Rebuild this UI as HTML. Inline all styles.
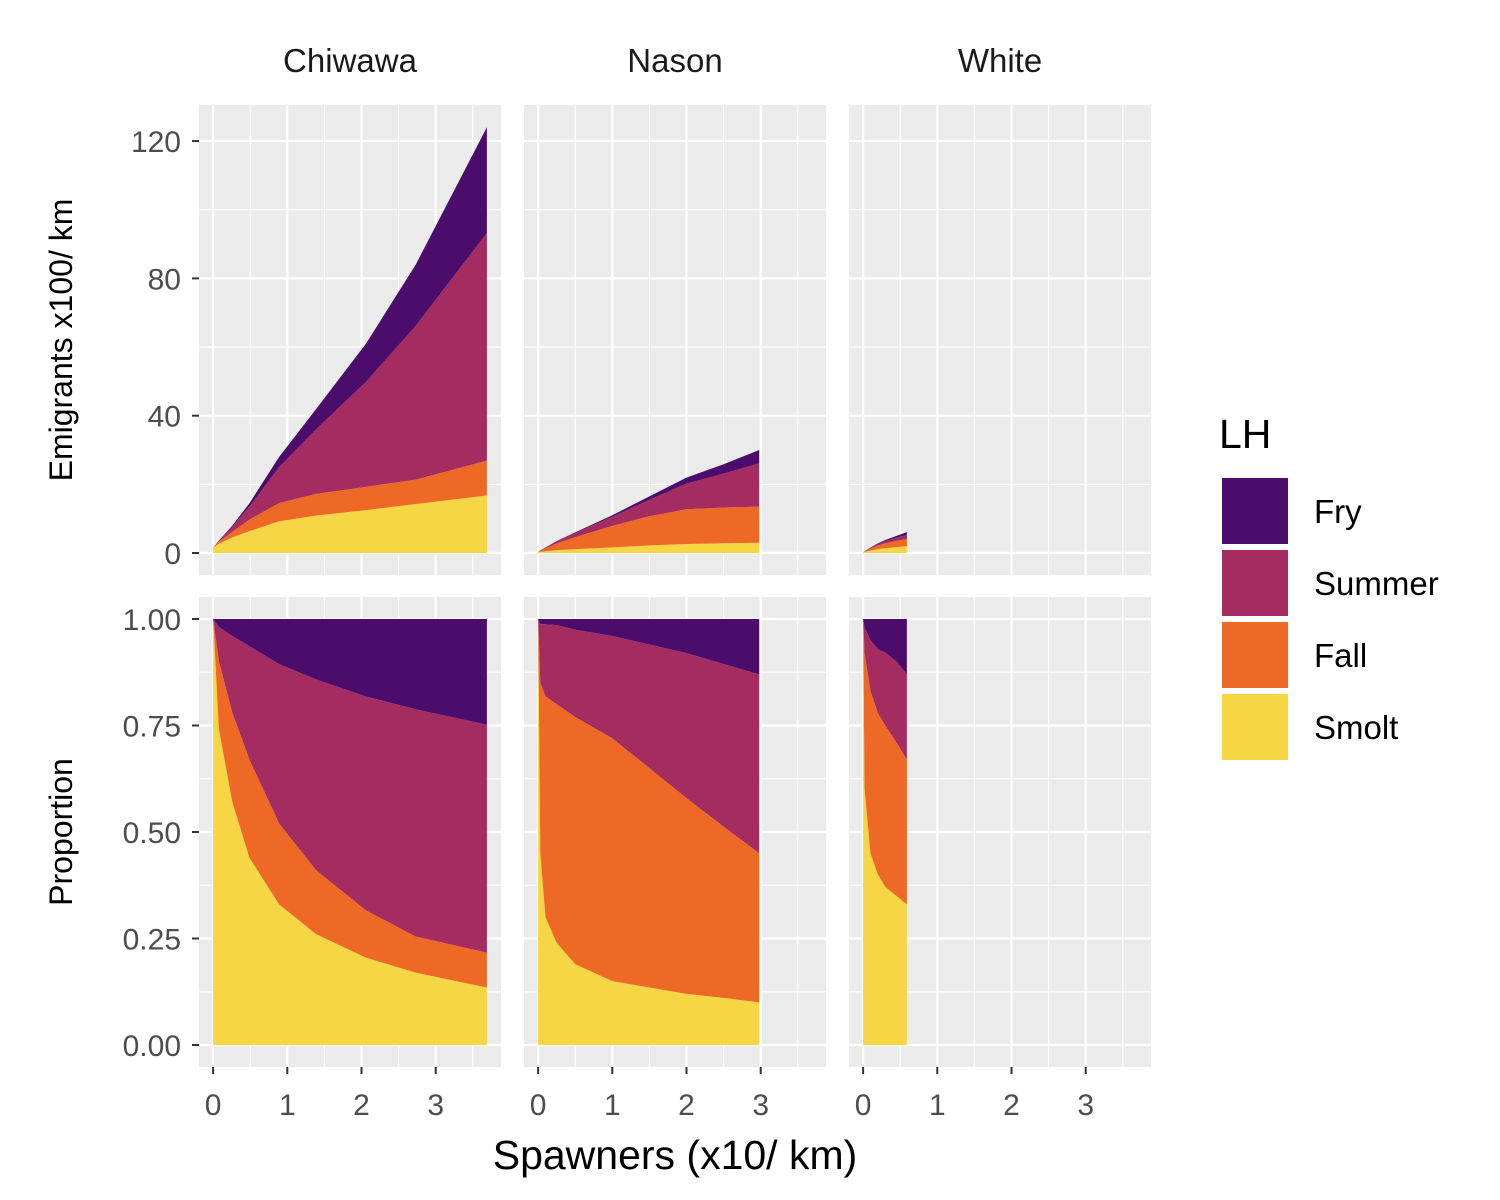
<!DOCTYPE html>
<html><head><meta charset="utf-8"><style>
body{margin:0;background:#fff}
svg{display:block;font-family:"Liberation Sans",Arial,sans-serif}
</style></head><body>
<svg id="chart" width="1500" height="1200" viewBox="0 0 1500 1200" xmlns="http://www.w3.org/2000/svg"></svg>
<script>
// ---- data ----
const sites = ["Chiwawa","Nason","White"];
const lhNames = ["Fry","Summer","Fall","Smolt"];
const lhColors = ["#4B0C6B","#A52C60","#ED6925","#F6D645"];
const xTicks = [0,1,2,3];
const topTicks = [0,40,80,120];
const botTicks = [0,0.25,0.5,0.75,1];
const botTickLabels = ["0.00","0.25","0.50","0.75","1.00"];

const chiX = [0,0.08,0.26,0.49,0.89,1.39,2.06,2.73,3.69];
const chiSmolt = [1.5,2.74,4.56,6.38,9.24,10.92,12.5,14.28,16.74];
const chiFall = [0,0.59,1.68,3.34,5.32,6.3,6.77,7.1,10.17];
const chiSummer = [0,0.30,1.44,3.86,10.47,18.82,30.6,44.8,66.3];
const chiFry = [0,0.07,0.32,0.93,2.97,5.96,11.1,17.8,30.8];

const nasX = [0,0.03,0.1,0.25,0.5,1,1.5,2,2.5,2.98];
const nasSmolt = [0.3,0.36,0.48,0.84,1.14,1.65,2.23,2.64,2.86,3.0];
const nasFall = [0,0.32,0.83,1.96,3.48,6.27,8.5,10.1,10.4,10.5];
const nasSummer = [0,0.11,0.27,0.65,1.23,2.64,4.79,7.48,9.88,12.6];
const nasFry = [0,0.01,0.02,0.05,0.15,0.44,0.99,1.76,2.73,3.9];

const whiX = [0,0.02,0.1,0.2,0.3,0.45,0.59];
const whiSmolt = [0.2,0.3,0.72,1.12,1.41,1.75,2.01];
const whiFall = [0,0.16,0.61,1.06,1.44,1.8,2.07];
const whiSummer = [0,0.03,0.19,0.42,0.65,0.95,1.22];
const whiFry = [0,0.01,0.08,0.2,0.3,0.5,0.79];

const siteData = [
 {x:chiX, s:[chiSmolt,chiFall,chiSummer,chiFry]},
 {x:nasX, s:[nasSmolt,nasFall,nasSummer,nasFry]},
 {x:whiX, s:[whiSmolt,whiFall,whiSummer,whiFry]}
];

// ---- layout ----
const NS="http://www.w3.org/2000/svg";
const svg=document.getElementById('chart');
function mk(tag,attrs,parent){const e=document.createElementNS(NS,tag);for(const k in attrs)e.setAttribute(k,attrs[k]);(parent||svg).appendChild(e);return e;}
const colL=[199,524,849], pw=302;
const rowT=[105,597], ph=470;
const xMin=-0.19, xMax=3.88;
function xs(c,v){return colL[c]+(v-xMin)/(xMax-xMin)*pw;}
const topMin=-6.4, topMax=130.5;
function yTop(v){return rowT[0]+ph-(v-topMin)/(topMax-topMin)*ph;}
const botMin=-0.0516, botMax=1.0516;
function yBot(v){return rowT[1]+ph-(v-botMin)/(botMax-botMin)*ph;}

for(let c=0;c<3;c++){
 for(let r=0;r<2;r++){
  const g=mk('g',{},svg);
  
  
  mk('rect',{x:colL[c],y:rowT[r],width:pw,height:ph,fill:'#EBEBEB'},g);
  const ys=r==0?yTop:yBot;
  const minor=r==0?[20,60,100]:[0.125,0.375,0.625,0.875];
  const major=r==0?topTicks:botTicks;
  minor.forEach(v=>mk('line',{x1:colL[c],x2:colL[c]+pw,y1:ys(v),y2:ys(v),stroke:'#fff','stroke-width':1.1},g));
  [0.5,1.5,2.5,3.5].forEach(v=>mk('line',{x1:xs(c,v),x2:xs(c,v),y1:rowT[r],y2:rowT[r]+ph,stroke:'#fff','stroke-width':1.1},g));
  major.forEach(v=>mk('line',{x1:colL[c],x2:colL[c]+pw,y1:ys(v),y2:ys(v),stroke:'#fff','stroke-width':2.2},g));
  xTicks.forEach(v=>mk('line',{x1:xs(c,v),x2:xs(c,v),y1:rowT[r],y2:rowT[r]+ph,stroke:'#fff','stroke-width':2.2},g));
  const d=siteData[c], n=d.x.length;
  const tot=d.x.map((_,i)=>d.s.reduce((a,s)=>a+s[i],0));
  let lower=new Array(n).fill(0);
  for(let k=0;k<4;k++){
   const upper=lower.map((v,i)=>v+d.s[k][i]);
   const f=i=>r==0?1:1/tot[i];
   let pts=[];
   for(let i=0;i<n;i++)pts.push(xs(c,d.x[i])+','+ys(upper[i]*f(i)));
   for(let i=n-1;i>=0;i--)pts.push(xs(c,d.x[i])+','+ys(lower[i]*f(i)));
   const p=mk('polygon',{points:pts.join(' '),fill:lhColors[3-k]},g);
   
   
   lower=upper;
  }
 }
 const t=mk('text',{x:colL[c]+pw/2,y:72,'text-anchor':'middle','font-size':33,fill:'#1a1a1a'});
 t.textContent=sites[c];
 
 
 xTicks.forEach(v=>{
  mk('line',{x1:xs(c,v),x2:xs(c,v),y1:1067,y2:1074,stroke:'#333','stroke-width':2});
  const l=mk('text',{x:xs(c,v),y:1115,'text-anchor':'middle','font-size':30,fill:'#4d4d4d'});
  l.textContent=v;
  
  
 });
}
topTicks.forEach(v=>{
 mk('line',{x1:192,x2:199,y1:yTop(v),y2:yTop(v),stroke:'#333','stroke-width':2});
 const l=mk('text',{x:181,y:yTop(v)+11,'text-anchor':'end','font-size':30,fill:'#4d4d4d'});
 l.textContent=v;
 
 
});
botTicks.forEach((v,i)=>{
 mk('line',{x1:192,x2:199,y1:yBot(v),y2:yBot(v),stroke:'#333','stroke-width':2});
 const l=mk('text',{x:181,y:yBot(v)+11,'text-anchor':'end','font-size':30,fill:'#4d4d4d'});
 l.textContent=botTickLabels[i];
 
 
});
let a=mk('text',{x:0,y:0,transform:'translate(72,340) rotate(-90)','text-anchor':'middle','font-size':32,fill:'#000'});
a.textContent='Emigrants x100/ km';


a=mk('text',{x:0,y:0,transform:'translate(72,832) rotate(-90)','text-anchor':'middle','font-size':32,fill:'#000'});
a.textContent='Proportion';


a=mk('text',{x:675,y:1169,'text-anchor':'middle','font-size':41,fill:'#000'});
a.textContent='Spawners (x10/ km)';


a=mk('text',{x:1219,y:448,'font-size':41,fill:'#000'});
a.textContent='LH';


lhNames.forEach((nm,i)=>{
 const y=477+i*72;
 const r=mk('rect',{x:1221,y:y,width:68,height:68,fill:lhColors[i],stroke:'#fff','stroke-width':2});
 
 
 const t=mk('text',{x:1314,y:y+46,'font-size':33,fill:'#000'});
 t.textContent=nm;
 
 
});
</script>
</body></html>
